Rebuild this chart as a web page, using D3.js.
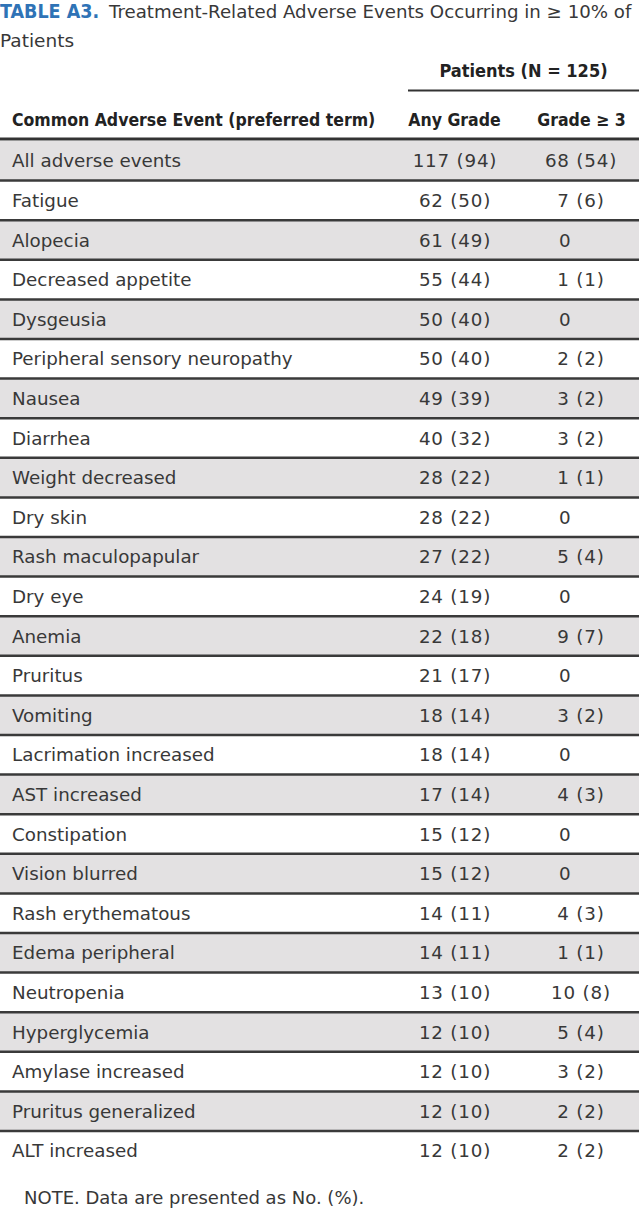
<!DOCTYPE html>
<html>
<head>
<meta charset="utf-8">
<script src="https://cdn.jsdelivr.net/npm/d3@7"></script>
<style>
  body { margin: 0; background: #fff; }
  svg { display: block; }
</style>
</head>
<body>
<script>
var events = ["All adverse events", "Fatigue", "Alopecia", "Decreased appetite", "Dysgeusia",
    "Peripheral sensory neuropathy", "Nausea", "Diarrhea", "Weight decreased", "Dry skin",
    "Rash maculopapular", "Dry eye", "Anemia", "Pruritus", "Vomiting", "Lacrimation increased",
    "AST increased", "Constipation", "Vision blurred", "Rash erythematous", "Edema peripheral",
    "Neutropenia", "Hyperglycemia", "Amylase increased", "Pruritus generalized", "ALT increased"];
var anyN   = [117, 62, 61, 55, 50, 50, 49, 40, 28, 28, 27, 24, 22, 21, 18, 18, 17, 15, 15, 14, 14, 13, 12, 12, 12, 12];
var anyPct = [94, 50, 49, 44, 40, 40, 39, 32, 22, 22, 22, 19, 18, 17, 14, 14, 14, 12, 12, 11, 11, 10, 10, 10, 10, 10];
var g3N    = [68, 7, 0, 1, 0, 2, 3, 3, 1, 0, 5, 0, 9, 0, 3, 0, 4, 0, 0, 4, 1, 10, 5, 3, 2, 2];
var g3Pct  = [54, 6, null, 1, null, 2, 2, 2, 1, null, 4, null, 7, null, 2, null, 3, null, null, 3, 1, 8, 4, 2, 2, 2];

var titleLabel = "TABLE A3.";
var titleText = "Treatment-Related Adverse Events Occurring in \u2265 10% of";
var titleText2 = "Patients";
var groupLabel = "Patients (N = 125)";
var colLabels = ["Common Adverse Event (preferred term)", "Any Grade", "Grade \u2265 3"];
var noteText = "NOTE. Data are presented as No. (%).";

var W = 639, H = 1209;
var bodyFont = "'DejaVu Sans', sans-serif";
var headFont = "'DejaVu Sans Condensed', 'DejaVu Sans', sans-serif";
var ink = "#383838";

var rows = events.map(function (e, i) {
    return {
        event: e,
        any: anyN[i] + " (" + anyPct[i] + ")",
        g3: g3Pct[i] === null ? String(g3N[i]) : g3N[i] + " (" + g3Pct[i] + ")",
        zero: g3N[i] === 0,
        i: i
    };
});

var svg = d3.select("body").append("svg")
    .attr("width", W)
    .attr("height", H);

var y = d3.scaleBand()
    .domain(events)
    .range([141, 141 + events.length * 39.6]);

// column centers / left edges
var colX = { event: 12, any: 455, g3: 581, g3zero: 559 };

// title
var title = svg.append("text")
    .attr("y", 18)
    .style("font-family", bodyFont)
    .style("font-size", "18.2px")
    .style("fill", ink);
title.append("tspan")
    .attr("x", 0)
    .style("font-family", headFont)
    .style("font-stretch", "condensed")
    .style("font-weight", "bold")
    .style("font-size", "19.5px")
    .style("fill", "#2f73b6")
    .text(titleLabel);
title.append("tspan")
    .attr("x", 109)
    .text(titleText);
svg.append("text")
    .attr("x", 0)
    .attr("y", 47)
    .style("font-family", bodyFont)
    .style("font-size", "18.5px")
    .style("fill", ink)
    .text(titleText2);

// column headers
var head = svg.append("g")
    .style("font-family", headFont)
    .style("font-stretch", "condensed")
    .style("font-weight", "bold")
    .style("font-size", "17.5px")
    .style("fill", "#222");

head.append("text")
    .attr("x", 523.5)
    .attr("y", 77)
    .attr("text-anchor", "middle")
    .style("font-size", "18px")
    .text(groupLabel);

head.append("line")
    .attr("x1", 408).attr("x2", W)
    .attr("y1", 90.5).attr("y2", 90.5)
    .style("stroke", "#333")
    .style("stroke-width", 2);

head.append("text").attr("x", colX.event).attr("y", 126).text(colLabels[0]);
head.append("text").attr("x", 454.5).attr("y", 126).attr("text-anchor", "middle").text(colLabels[1]);
head.append("text").attr("x", 581.5).attr("y", 126).attr("text-anchor", "middle").text(colLabels[2]);

// shaded rows
svg.append("g").selectAll("rect")
    .data(rows.filter(function (d) { return d.i % 2 === 0; }))
    .enter().append("rect")
    .attr("x", 0)
    .attr("width", W)
    .attr("y", function (d) { return y(d.event); })
    .attr("height", y.bandwidth())
    .style("fill", "#e3e1e2");

// row rules
svg.append("g").selectAll("line")
    .data(rows.filter(function (d) { return d.i < rows.length - 1; }))
    .enter().append("line")
    .attr("x1", 0).attr("x2", W)
    .attr("y1", function (d) { return y(d.event) + y.bandwidth(); })
    .attr("y2", function (d) { return y(d.event) + y.bandwidth(); })
    .style("stroke", "#3a3a3a")
    .style("stroke-width", 2.5);

// header rule
svg.append("line")
    .attr("x1", 0).attr("x2", W)
    .attr("y1", 139).attr("y2", 139)
    .style("stroke", "#333")
    .style("stroke-width", 3);

// cells
var body = svg.append("g")
    .style("font-family", bodyFont)
    .style("font-size", "18.3px")
    .style("fill", ink);

var row = body.selectAll("g.row")
    .data(rows)
    .enter().append("g")
    .attr("class", "row")
    .attr("transform", function (d) { return "translate(0," + (y(d.event) + y.bandwidth() / 2) + ")"; });

row.append("text")
    .attr("x", colX.event)
    .attr("dy", "0.36em")
    .text(function (d) { return d.event; });

row.append("text")
    .attr("x", colX.any)
    .attr("dy", "0.36em")
    .attr("text-anchor", "middle")
    .style("letter-spacing", "0.8px")
    .text(function (d) { return d.any; });

row.append("text")
    .attr("x", function (d) { return d.zero ? colX.g3zero : colX.g3; })
    .attr("dy", "0.36em")
    .attr("text-anchor", function (d) { return d.zero ? "start" : "middle"; })
    .style("letter-spacing", "0.8px")
    .text(function (d) { return d.g3; });

// note
svg.append("text")
    .attr("x", 24)
    .attr("y", 1204)
    .style("font-family", bodyFont)
    .style("font-size", "18px")
    .style("fill", ink)
    .text(noteText);
</script>
</body>
</html>
